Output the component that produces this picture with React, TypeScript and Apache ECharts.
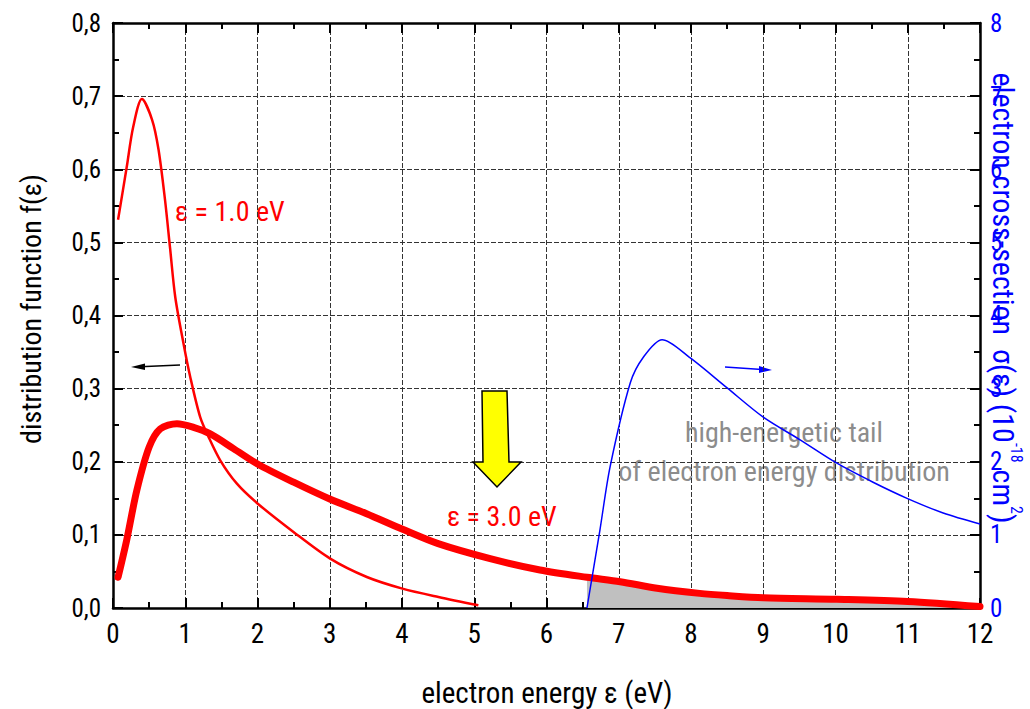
import React, { useEffect, useRef } from "react";
import * as echarts from "echarts";

const FONT = "'Liberation Sans Narrow', 'Arial Narrow', 'Roboto Condensed', 'DejaVu Sans Condensed', sans-serif";

// ε = 1.0 eV distribution function (left axis)
const thinX = [0.07, 0.19, 0.28, 0.4, 0.54, 0.63, 0.72, 0.79, 0.862, 0.977, 1.069, 1.207, 1.322, 1.484, 1.715, 2.0, 2.498, 3.006, 3.513, 4.006, 4.504, 5.057];
const thinY = [0.531, 0.603, 0.658, 0.696, 0.668, 0.627, 0.558, 0.492, 0.425, 0.361, 0.316, 0.261, 0.234, 0.202, 0.17, 0.143, 0.104, 0.0675, 0.0424, 0.0265, 0.015, 0.0037];

// ε = 3.0 eV distribution function (left axis)
const thickX = [0.07, 0.19, 0.33, 0.5, 0.654, 0.885, 1.115, 1.346, 1.668, 2.0, 2.5, 3.0, 3.51, 4.0, 4.5, 5.22, 5.91, 6.56, 7.02, 7.53, 8.12, 8.5, 9.0, 10.02, 11.0, 12.0];
const thickY = [0.042, 0.093, 0.161, 0.22, 0.245, 0.252, 0.247, 0.238, 0.218, 0.197, 0.172, 0.149, 0.129, 0.108, 0.088, 0.0675, 0.052, 0.042, 0.036, 0.027, 0.02, 0.017, 0.014, 0.012, 0.009, 0.002];

// electron cross-section σ(ε) (right axis, 10^-18 cm^2)
const sigmaX = [6.56, 6.74, 6.88, 7.16, 7.34, 7.6, 7.99, 8.5, 9.0, 9.51, 10.02, 10.52, 10.99, 11.49, 12.0];
const sigmaY = [0, 1.07, 1.93, 3.08, 3.43, 3.67, 3.42, 3.01, 2.61, 2.3, 1.98, 1.72, 1.5, 1.3, 1.15];

const threshold = 6.56;

const xTicks = [0, 1, 2, 3, 4, 5, 6, 7, 8, 9, 10, 11, 12];

const zip = (xs: number[], ys: number[]) => xs.map((x, i) => [x, ys[i]]);

export default function App() {
  const ref = useRef<HTMLDivElement>(null);
  useEffect(() => {
    document.body.style.margin = "0";
    if (!ref.current) return;
    const chart = echarts.init(ref.current, null, { renderer: "svg" });

    const gridLine = { show: true, lineStyle: { color: "#333", width: 1, type: [5, 2] as any } };
    const axisLine = { show: true, onZero: false, lineStyle: { color: "#000", width: 2.5 } };
    const tick = { show: true, inside: true, length: 10, lineStyle: { color: "#000", width: 2 } };
    const minor = { show: true, splitNumber: 2, length: 6, lineStyle: { color: "#000", width: 2 } };

    const tail = zip(thickX, thickY).filter((p) => p[0] >= threshold);

    chart.setOption({
      animation: false,
      grid: { left: 113, right: 50, top: 23, bottom: 101, containLabel: false },
      xAxis: [
        {
          type: "value", min: 0, max: 12, interval: 1, position: "bottom",
          axisLine, axisTick: tick, minorTick: minor, splitLine: gridLine,
          axisLabel: { fontFamily: FONT, fontSize: 27, color: "#000", margin: 12,
            formatter: (v: number) => (xTicks.includes(v) ? String(v) : "") },
        },
        {
          type: "value", min: 0, max: 12, interval: 1, position: "top",
          axisLine, axisTick: tick, minorTick: minor, splitLine: { show: false },
          axisLabel: { show: false },
        },
      ],
      yAxis: [
        {
          type: "value", min: 0, max: 0.8, interval: 0.1, position: "left",
          axisLine, axisTick: tick, minorTick: minor, splitLine: gridLine,
          axisLabel: { fontFamily: FONT, fontSize: 25, color: "#000", margin: 12,
            formatter: (v: number) => v.toFixed(1).replace(".", ",") },
        },
        {
          type: "value", min: 0, max: 8, interval: 1, position: "right",
          axisLine, axisTick: tick, minorTick: minor, splitLine: { show: false },
          axisLabel: { fontFamily: FONT, fontSize: 25, color: "#0000ff", margin: 10 },
        },
      ],
      series: [
        {
          type: "line", name: "tail", data: tail, xAxisIndex: 0, yAxisIndex: 0,
          showSymbol: false, symbol: "none", smooth: 0.3,
          lineStyle: { width: 0, opacity: 0 },
          areaStyle: { color: "#c0c0c0", opacity: 1 }, z: 1,
        },
        {
          type: "line", name: "ε = 1.0 eV", data: zip(thinX, thinY),
          showSymbol: false, symbol: "none", smooth: 0.3,
          lineStyle: { color: "#ff0000", width: 2.5 }, z: 3,
        },
        {
          type: "line", name: "ε = 3.0 eV", data: zip(thickX, thickY),
          showSymbol: false, symbol: "none", smooth: 0.3,
          lineStyle: { color: "#ff0000", width: 7, cap: "round" }, z: 4,
        },
        {
          type: "line", name: "σ(ε)", data: zip(sigmaX, sigmaY), yAxisIndex: 1,
          showSymbol: false, symbol: "none", smooth: 0.3,
          lineStyle: { color: "#0000ff", width: 1.5 }, z: 5,
        },
      ],
      graphic: [
        {
          type: "text", x: 31, y: 309, rotation: Math.PI / 2,
          style: { text: "distribution function f(ε)", fontFamily: FONT, fontSize: 28, fill: "#000", align: "center", verticalAlign: "middle" },
        },
        {
          type: "text", x: 547, y: 693,
          style: { text: "electron energy ε (eV)", fontFamily: FONT, fontSize: 29, fill: "#000", align: "center", verticalAlign: "middle" },
        },
        {
          type: "text", x: 1006, y: 298, rotation: -Math.PI / 2,
          style: {
            text: "{a|electron cross-section  σ(ε) (10}{s|-18}{a| cm}{s|2}{a|)}",
            align: "center", verticalAlign: "middle",
            rich: {
              a: { fontFamily: FONT, fontSize: 30, fill: "#0000ff", lineHeight: 36, verticalAlign: "bottom" },
              s: { fontFamily: FONT, fontSize: 16, fill: "#0000ff", lineHeight: 36, verticalAlign: "top" },
            },
          },
        },
        {
          type: "text", x: 175, y: 211,
          style: { text: "ε = 1.0 eV", fontFamily: FONT, fontSize: 28, fill: "#ff0000", align: "left", verticalAlign: "middle" },
        },
        {
          type: "text", x: 447, y: 516,
          style: { text: "ε = 3.0 eV", fontFamily: FONT, fontSize: 28, fill: "#ff0000", align: "left", verticalAlign: "middle" },
        },
        {
          type: "text", x: 784, y: 432,
          style: { text: "high-energetic tail", fontFamily: FONT, fontSize: 28, fill: "#8c8c8c", align: "center", verticalAlign: "middle" },
        },
        {
          type: "text", x: 784, y: 471,
          style: { text: "of electron energy distribution", fontFamily: FONT, fontSize: 28, fill: "#8c8c8c", align: "center", verticalAlign: "middle" },
        },
        // black arrow (points to left axis)
        { type: "line", shape: { x1: 180, y1: 365, x2: 140, y2: 366.7 }, style: { stroke: "#000", lineWidth: 1.5 } },
        { type: "polygon", shape: { points: [[131, 367], [145, 363.5], [145, 370]] }, style: { fill: "#000" } },
        // blue arrow (points to right axis)
        { type: "line", shape: { x1: 725, y1: 367, x2: 762, y2: 369.5 }, style: { stroke: "#0000ff", lineWidth: 1.5 } },
        { type: "polygon", shape: { points: [[772, 370], [759, 366], [759, 373]] }, style: { fill: "#0000ff" } },
        // yellow arrow
        {
          type: "polygon",
          shape: { points: [[482, 391], [507, 391], [509, 462], [521, 462], [497, 487], [473, 462], [483, 462]] },
          style: { fill: "#ffff00", stroke: "#000", lineWidth: 1.5 }, z: 10,
        },
      ],
    });
    return () => chart.dispose();
  }, []);
  return <div ref={ref} style={{ width: 1030, height: 709 }} />;
}
